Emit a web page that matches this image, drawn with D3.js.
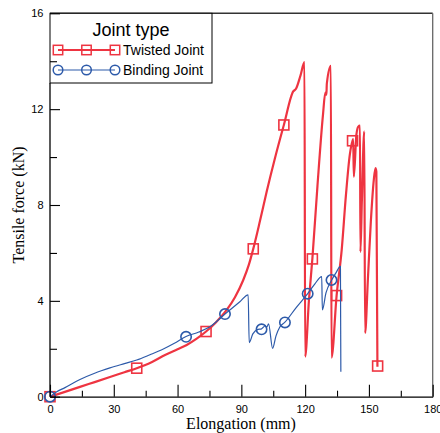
<!DOCTYPE html>
<html>
<head>
<meta charset="utf-8">
<script src="https://cdn.jsdelivr.net/npm/d3@7"></script>
<style>
  html, body { margin: 0; padding: 0; background: #fff; }
  svg { display: block; }
  .tick text { font-family: "Liberation Sans", Arial, sans-serif; font-size: 11px; fill: #000; }
</style>
</head>
<body>
<svg id="chart" width="440" height="433"></svg>
<script>
// Tensile test curves: elongation (mm) vs tensile force (kN)
const twistedElong = [0, 7, 14.1, 21, 28.2, 35, 40.8, 48, 54.1, 60, 64.3, 69, 73.4, 78, 83.1, 87, 90.9, 93.5, 95.6, 98.8, 101.9, 105.8, 110.0, 114.4, 115.7, 117.8, 119.7,
  120.0, 121.8, 123.4, 125.8, 128.4, 129.5, 130.0, 130.2, 132.1,
  132.4, 134.8, 137.2, 139.2, 141.0, 142.3, 142.6, 142.9, 144.1, 145.0, 145.8,
  146.0, 146.7, 147.8,
  148.2, 149.5, 150.9, 152.3, 153.1, 153.5, 154.0];
const twistedForce = [0, 0.2, 0.41, 0.61, 0.82, 1.02, 1.19, 1.45, 1.74, 1.98, 2.16, 2.42, 2.72, 3.1, 3.62, 4.15, 4.87, 5.5, 6.17, 7.35, 8.55, 9.95, 11.34, 12.74, 12.85, 13.4, 13.96,
  1.67, 4.04, 5.75, 8.8, 11.77, 12.69, 12.6, 13.06, 13.81,
  1.63, 4.22, 6.13, 8.42, 10.09, 10.68, 10.75, 9.18, 10.93, 11.27, 11.31,
  6.04, 8.22, 11.07,
  2.65, 4.87, 7.3, 9.05, 9.54, 9.39, 1.25];

const bindingElong = [0, 3, 7.05, 14.1, 21, 28.2, 35, 40.8, 47, 53.3, 58.5, 64.0, 70, 75.2, 82.3, 89.3, 93.2,
  93.7, 95.4, 97.8, 99.5, 101.1, 102.0, 102.8,
  104.7, 106.3, 108.1, 110.5, 115.7, 121.2, 124.6, 127.8,
  128.1, 129.8, 132.5, 134.5, 136.6, 136.8];
const bindingForce = [0, 0.2, 0.38, 0.72, 0.98, 1.2, 1.38, 1.53, 1.75, 1.99, 2.23, 2.51, 2.7, 2.92, 3.45, 3.96, 4.25,
  2.26, 2.62, 2.81, 2.83, 2.95, 2.91, 3.04,
  2.02, 2.54, 2.91, 3.11, 3.71, 4.3, 4.71, 5.01,
  3.62, 4.33, 4.87, 5.17, 5.44, 1.04];

// Marker positions along each curve
const twistedMarkElong = [0, 40.8, 73.4, 95.6, 110.0, 123.4, 134.8, 142.3, 154.1];
const twistedMarkForce = [0, 1.19, 2.72, 6.17, 11.34, 5.75, 4.22, 10.68, 1.28];
const bindingMarkElong = [0, 64.0, 82.3, 99.5, 110.5, 121.2, 132.4];
const bindingMarkForce = [0, 2.5, 3.45, 2.81, 3.1, 4.3, 4.87];

const xMajorTicks = [0, 30, 60, 90, 120, 150, 180];
const xMinorTicks = [15, 45, 75, 105, 135, 165];
const yMajorTicks = [0, 4, 8, 12, 16];
const yMinorTicks = [2, 6, 10, 14];

const seriesNames = ["Twisted Joint", "Binding Joint"];
const legendTitle = "Joint type";
const xTitle = "Elongation (mm)";
const yTitle = "Tensile force (kN)";

const RED = "#ee3441";
const BLUE = "#2d5aa9";

const svg = d3.select("#chart");
const x = d3.scaleLinear().domain([0, 180]).range([50, 432.7]);
const y = d3.scaleLinear().domain([0, 16]).range([396.7, 13.3]);

const zip = (a, b) => a.map((v, i) => [v, b[i]]);
const twisted = zip(twistedElong, twistedForce);
const binding = zip(bindingElong, bindingForce);

// frame: top and right edges
svg.append("line").attr("x1", x(0)).attr("x2", x(180)).attr("y1", y(16)).attr("y2", y(16))
  .attr("stroke", "#333").attr("stroke-width", 1.6);
svg.append("line").attr("x1", x(180)).attr("x2", x(180)).attr("y1", y(16)).attr("y2", y(0))
  .attr("stroke", "#666").attr("stroke-width", 1.3);

const line = d3.line().x(d => x(d[0])).y(d => y(d[1])).curve(d3.curveMonotoneX);

svg.append("path").datum(twisted).attr("d", line)
  .attr("fill", "none").attr("stroke", RED).attr("stroke-width", 2.2).attr("stroke-linejoin", "round");

svg.selectAll("rect.tmark").data(zip(twistedMarkElong, twistedMarkForce)).join("rect")
  .attr("class", "tmark")
  .attr("x", d => x(d[0]) - 5).attr("y", d => y(d[1]) - 5)
  .attr("width", 10).attr("height", 10)
  .attr("fill", "none").attr("stroke", RED).attr("stroke-width", 1.6);

svg.append("path").datum(binding).attr("d", line)
  .attr("fill", "none").attr("stroke", BLUE).attr("stroke-width", 1.2).attr("stroke-linejoin", "round");

svg.selectAll("circle.bmark").data(zip(bindingMarkElong, bindingMarkForce)).join("circle")
  .attr("class", "bmark")
  .attr("cx", d => x(d[0])).attr("cy", d => y(d[1])).attr("r", 5.2)
  .attr("fill", "none").attr("stroke", BLUE).attr("stroke-width", 1.6);

// legend
const lg = svg.append("g");
lg.append("rect").attr("x", 50).attr("y", 13.3).attr("width", 162).attr("height", 69.7)
  .attr("fill", "#fff").attr("stroke", "#000").attr("stroke-width", 1);
lg.append("text").attr("x", 131).attr("y", 36).attr("text-anchor", "middle")
  .attr("font-family", "Liberation Sans, Arial, sans-serif").attr("font-size", 18).text(legendTitle);
const legendRows = [
  { name: seriesNames[0], color: RED, width: 1.8, shape: "square", cy: 50 },
  { name: seriesNames[1], color: BLUE, width: 1.2, shape: "circle", cy: 70 }
];
legendRows.forEach(r => {
  lg.append("line").attr("x1", 58).attr("x2", 115).attr("y1", r.cy).attr("y2", r.cy)
    .attr("stroke", r.color).attr("stroke-width", r.width);
  [58, 86.5, 115].forEach(cx => {
    if (r.shape === "square") {
      lg.append("rect").attr("x", cx - 4.7).attr("y", r.cy - 4.7).attr("width", 9.4).attr("height", 9.4)
        .attr("fill", "none").attr("stroke", r.color).attr("stroke-width", 1.5);
    } else {
      lg.append("circle").attr("cx", cx).attr("cy", r.cy).attr("r", 4.8)
        .attr("fill", "none").attr("stroke", r.color).attr("stroke-width", 1.5);
    }
  });
  lg.append("text").attr("x", 123).attr("y", r.cy + 5)
    .attr("font-family", "Liberation Sans, Arial, sans-serif").attr("font-size", 14).text(r.name);
});

// axes with inward ticks
const xAxis = svg.append("g").attr("transform", `translate(0,${y(0)})`)
  .call(d3.axisBottom(x).tickValues(xMajorTicks).tickFormat(d3.format("d"))
    .tickSizeInner(-12).tickSizeOuter(0).tickPadding(8.5));
svg.append("g").attr("transform", `translate(0,${y(0)})`)
  .call(d3.axisBottom(x).tickValues(xMinorTicks).tickFormat("")
    .tickSizeInner(-6).tickSizeOuter(0))
  .call(g => g.select(".domain").remove());

const yAxis = svg.append("g").attr("transform", `translate(${x(0)},0)`)
  .call(d3.axisLeft(y).tickValues(yMajorTicks).tickFormat(d3.format("d"))
    .tickSizeInner(-10).tickSizeOuter(0).tickPadding(6.5));
svg.append("g").attr("transform", `translate(${x(0)},0)`)
  .call(d3.axisLeft(y).tickValues(yMinorTicks).tickFormat("")
    .tickSizeInner(-7).tickSizeOuter(0))
  .call(g => g.select(".domain").remove());

[xAxis, yAxis].forEach(g => {
  g.select(".domain").attr("stroke", "#000").attr("stroke-width", 1.3);
});
svg.selectAll(".tick line").attr("stroke", "#000").attr("stroke-width", 1.1);
// the top of the y axis sits under the legend box
yAxis.select(".domain").attr("d", `M0,${y(0)}V${83}`);

// axis titles
svg.append("text").attr("x", 241).attr("y", 429).attr("text-anchor", "middle")
  .attr("font-family", "Liberation Serif, Times New Roman, serif").attr("font-size", 16).text(xTitle);
svg.append("text").attr("transform", `translate(24,205) rotate(-90)`).attr("text-anchor", "middle")
  .attr("font-family", "Liberation Serif, Times New Roman, serif").attr("font-size", 16).text(yTitle);
</script>
</body>
</html>
